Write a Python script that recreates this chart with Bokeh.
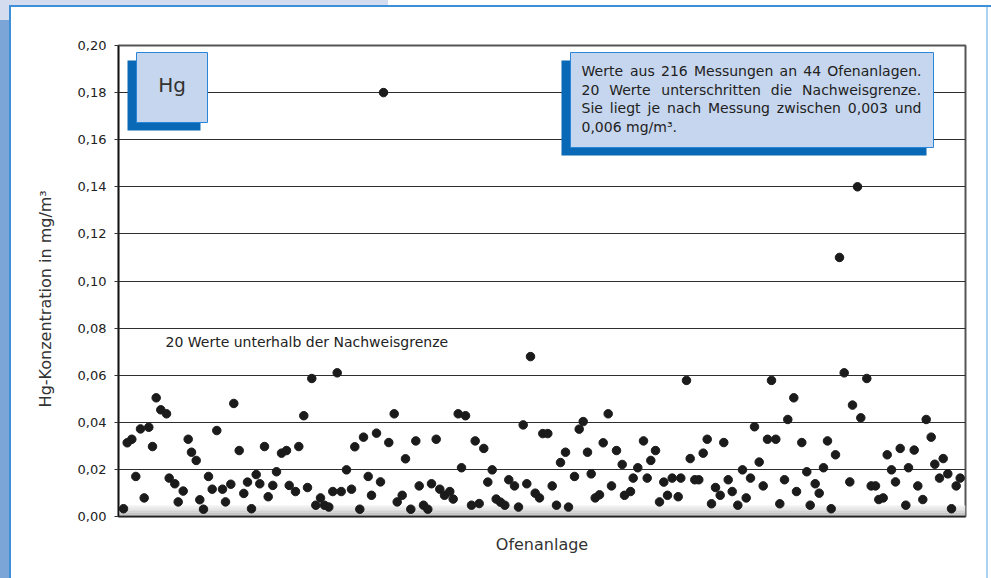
from bokeh.plotting import figure
from bokeh.models import Range1d, FixedTicker, ColumnDataSource, Label
from bokeh.embed import file_html
from bokeh.resources import INLINE

# Position of each measurement along the x axis (furnace order, arbitrary units 0..847)
position = [
    5.0, 8.7, 13.3, 17.3, 22.0, 25.7, 30.3, 34.0, 37.7, 42.3,
    48.0, 50.7, 56.3, 59.7, 64.7, 69.7, 73.0, 77.7, 81.3, 85.0,
    90.0, 93.7, 98.3, 104.0, 107.0, 112.3, 115.3, 120.7, 125.3, 129.0,
    133.0, 137.7, 141.3, 146.0, 149.7, 154.3, 158.0, 163.0, 168.0, 170.7,
    177.0, 180.3, 185.3, 189.0, 193.3, 197.3, 202.0, 206.0, 210.3, 214.3,
    218.7, 222.7, 228.0, 233.0, 236.3, 241.3, 245.0, 249.7, 253.0, 258.0,
    262.0, 265.0, 270.3, 275.7, 278.7, 283.7, 287.0, 292.3, 297.3, 300.7,
    305.0, 309.3, 313.0, 317.7, 321.3, 326.0, 331.3, 334.7, 339.7, 343.0,
    347.0, 353.0, 356.7, 360.7, 365.3, 369.3, 373.7, 377.7, 382.0, 386.3,
    390.3, 396.0, 400.0, 404.7, 408.3, 412.0, 416.7, 421.0, 424.3, 429.3,
    433.7, 438.0, 442.0, 447.0, 450.0, 456.0, 460.7, 464.7, 469.0, 472.7,
    476.7, 481.0, 484.7, 489.7, 493.0, 498.0, 503.7, 506.0, 512.0, 514.7,
    519.3, 525.0, 528.7, 532.3, 537.0, 541.0, 545.3, 549.0, 553.7, 559.7,
    562.3, 568.0, 571.7, 576.3, 580.3, 584.7, 588.7, 593.0, 597.0, 601.7,
    605.3, 609.7, 613.7, 619.3, 624.0, 627.7, 632.0, 636.0, 640.7, 644.7,
    649.0, 653.0, 657.3, 661.3, 666.0, 669.3, 675.3, 678.0, 683.3, 688.3,
    691.7, 696.7, 700.7, 705.0, 709.0, 712.7, 717.0, 721.0, 725.7, 731.3,
    734.0, 739.0, 742.3, 748.3, 752.7, 757.0, 760.3, 764.7, 768.7, 773.0,
    777.0, 781.7, 787.3, 790.0, 795.7, 799.3, 804.3, 807.7, 812.7, 816.3,
    821.0, 824.7, 829.3, 833.0, 837.7, 841.7,
]

# Hg concentration in mg/m3
hg = [
    0.0033, 0.0313, 0.0328, 0.0170, 0.0372, 0.0079, 0.0379, 0.0297, 0.0504, 0.0453,
    0.0436, 0.0163, 0.0139, 0.0062, 0.0108, 0.0328, 0.0273, 0.0238, 0.0071, 0.0031,
    0.0170, 0.0116, 0.0365, 0.0116, 0.0062, 0.0137, 0.0480, 0.0280, 0.0098, 0.0146,
    0.0033, 0.0178, 0.0139, 0.0297, 0.0084, 0.0132, 0.0190, 0.0269, 0.0280, 0.0132,
    0.0106, 0.0297, 0.0428, 0.0123, 0.0586, 0.0048, 0.0079, 0.0048, 0.0040, 0.0106,
    0.0610, 0.0106, 0.0198, 0.0116, 0.0296, 0.0031, 0.0337, 0.0170, 0.0090, 0.0354,
    0.0147, 0.1800, 0.0314, 0.0436, 0.0062, 0.0090, 0.0245, 0.0031, 0.0321, 0.0130,
    0.0048, 0.0031, 0.0139, 0.0328, 0.0116, 0.0090, 0.0106, 0.0074, 0.0436, 0.0207,
    0.0428, 0.0048, 0.0321, 0.0055, 0.0289, 0.0146, 0.0198, 0.0074, 0.0061, 0.0048,
    0.0156, 0.0130, 0.0040, 0.0389, 0.0139, 0.0679, 0.0099, 0.0079, 0.0352, 0.0352,
    0.0130, 0.0048, 0.0229, 0.0273, 0.0040, 0.0170, 0.0371, 0.0403, 0.0273, 0.0181,
    0.0079, 0.0092, 0.0313, 0.0436, 0.0130, 0.0280, 0.0221, 0.0090, 0.0106, 0.0163,
    0.0207, 0.0321, 0.0163, 0.0238, 0.0280, 0.0062, 0.0146, 0.0090, 0.0163, 0.0084,
    0.0163, 0.0578, 0.0246, 0.0156, 0.0156, 0.0269, 0.0328, 0.0054, 0.0123, 0.0090,
    0.0314, 0.0156, 0.0106, 0.0048, 0.0198, 0.0079, 0.0163, 0.0381, 0.0231, 0.0130,
    0.0328, 0.0578, 0.0328, 0.0054, 0.0156, 0.0412, 0.0504, 0.0106, 0.0314, 0.0190,
    0.0048, 0.0139, 0.0099, 0.0207, 0.0321, 0.0033, 0.0262, 0.1100, 0.0610, 0.0147,
    0.0473, 0.1400, 0.0419, 0.0586, 0.0130, 0.0130, 0.0072, 0.0079, 0.0262, 0.0198,
    0.0147, 0.0289, 0.0048, 0.0207, 0.0282, 0.0130, 0.0072, 0.0412, 0.0337, 0.0222,
    0.0163, 0.0246, 0.0181, 0.0033, 0.0130, 0.0163,
]

tick_values = [0.00, 0.02, 0.04, 0.06, 0.08, 0.10, 0.12, 0.14, 0.16, 0.18, 0.20]
tick_labels = ["0,00", "0,02", "0,04", "0,06", "0,08", "0,10",
               "0,12", "0,14", "0,16", "0,18", "0,20"]

y_title = "Hg-Konzentration in mg/m³"
x_title = "Ofenanlage"
below_limit_note = "20 Werte unterhalb der Nachweisgrenze"
note_lines = [
    "Werte aus 216 Messungen an 44 Ofenanlagen.",
    "20 Werte unterschritten die Nachweisgrenze.",
    "Sie liegt je nach Messung zwischen 0,003 und",
    "0,006 mg/m³.",
]

# ---- canvas geometry (pixels) ----
W, H = 991, 578
LEFT, RIGHT, TOP, BOTTOM = 118, 965, 45, 516
X_SPAN = RIGHT - LEFT
Y_MAX = 0.20
FONT = "DejaVu Sans"

# DejaVu Sans advance widths (em) used to justify the info-box paragraph
ADV = {
    " ": .318, ",": .318, ".": .318, "/": .337, "³": .401,
    "W": .989, "M": .863, "N": .748, "O": .787, "S": .635, "H": .752, "K": .656,
    "a": .613, "b": .635, "c": .550, "d": .635, "e": .615, "f": .352, "g": .635,
    "h": .634, "i": .278, "j": .278, "l": .278, "m": .974, "n": .634, "o": .612,
    "r": .411, "s": .521, "t": .392, "u": .634, "w": .818, "z": .525,
}


def text_width(s, size):
    return sum(ADV.get(ch, .636) for ch in s) * size


def sx(px):
    """canvas pixel column -> x data coordinate"""
    return px - LEFT


def sy(py):
    """canvas pixel row -> y data coordinate"""
    return (BOTTOM - py) / (BOTTOM - TOP) * Y_MAX


p = figure(
    width=W, height=H,
    x_range=Range1d(0, X_SPAN), y_range=Range1d(0, Y_MAX),
    output_backend="svg", toolbar_location=None,
    min_border_left=LEFT, min_border_right=W - RIGHT,
    min_border_top=TOP, min_border_bottom=H - BOTTOM,
)

# page frame: light band, dark left strip and thin blue rules
p.styles = {
    "background": (
        "linear-gradient(#3d8fd8,#3d8fd8) 9px 5px / 982px 2px no-repeat,"
        "linear-gradient(#3d8fd8,#3d8fd8) 9px 5px / 2px 573px no-repeat,"
        "linear-gradient(#a9d3f0,#a9d3f0) 986px 5px / 2px 573px no-repeat,"
        "linear-gradient(#7ba4d7,#7ba4d7) 0px 20px / 9px 558px no-repeat,"
        "linear-gradient(#d4ddf0,#d4ddf0) 0px 0px / 388px 5px no-repeat,"
        "linear-gradient(#d4ddf0,#d4ddf0) 0px 0px / 9px 20px no-repeat,"
        "#ffffff"
    )
}
p.border_fill_color = None
p.background_fill_color = "#ffffff"
p.outline_line_color = "#555555"
p.outline_line_width = 2

# grey band along the detection-limit zone
band_colors = ["#f0f0f0", "#e8e8e8", "#dedede", "#d2d2d2", "#c4c4c4", "#a9a9a9"]
band_top = sy(505)
n = len(band_colors)
for i, c in enumerate(band_colors):
    p.quad(left=0, right=X_SPAN,
           top=band_top * (n - i) / n, bottom=band_top * (n - i - 1) / n,
           fill_color=c, line_color=None)

# grid
p.xgrid.visible = False
p.ygrid.ticker = FixedTicker(ticks=tick_values)
p.ygrid.grid_line_color = "#2e2e2e"
p.ygrid.grid_line_width = 1

# y axis
p.yaxis.ticker = FixedTicker(ticks=tick_values)
p.yaxis.major_label_overrides = dict(zip(tick_values, tick_labels))
p.yaxis.axis_line_color = "#111111"
p.yaxis.axis_line_width = 1.5
p.yaxis.major_tick_line_color = "#333333"
p.yaxis.major_tick_out = 4
p.yaxis.major_tick_in = 0
p.yaxis.minor_tick_line_color = None
p.yaxis.major_label_standoff = 8
p.yaxis.major_label_text_font = FONT
p.yaxis.major_label_text_font_size = "13px"
p.yaxis.major_label_text_color = "#222222"
# trailing no-break spaces push the centred title toward the lower end
p.yaxis.axis_label = y_title + "\u00a0" * 7
p.yaxis.axis_label_text_font = FONT
p.yaxis.axis_label_text_font_size = "16px"
p.yaxis.axis_label_text_font_style = "normal"
p.yaxis.axis_label_text_color = "#333333"
p.yaxis.axis_label_standoff = 20

# x axis: line only
p.xaxis.ticker = FixedTicker(ticks=[])
p.xaxis.axis_line_color = "#222222"
p.xaxis.axis_line_width = 1.5
p.xaxis.major_tick_out = 0
p.xaxis.major_tick_in = 0
p.xaxis.major_label_standoff = 0
p.xaxis.major_tick_line_color = None
p.xaxis.minor_tick_line_color = None
p.xaxis.axis_label = x_title
p.xaxis.axis_label_text_font = FONT
p.xaxis.axis_label_text_font_size = "16px"
p.xaxis.axis_label_text_font_style = "normal"
p.xaxis.axis_label_text_color = "#333333"
p.xaxis.axis_label_standoff = 18

# measurements
src = ColumnDataSource(data=dict(position=position, hg=hg))
p.scatter(x="position", y="hg", source=src, size=8.5,
          fill_color="#1b1b1b", line_color="#1b1b1b")

# note about values below detection limit
p.add_layout(Label(x=sx(165), y=sy(341), text=below_limit_note,
                   text_align="left", text_baseline="middle",
                   text_font=FONT, text_font_size="14px", text_color="#222222"))

# "Hg" tag with offset shadow
p.quad(left=sx(127), right=sx(200), top=sy(60), bottom=sy(130),
       fill_color="#0a69b6", line_color=None)
p.quad(left=sx(136), right=sx(207), top=sy(52), bottom=sy(122),
       fill_color="#c6d6ee", line_color="#2a86d8", line_width=1)
p.add_layout(Label(x=sx(171.5), y=sy(84), text="Hg",
                   text_align="center", text_baseline="middle",
                   text_font=FONT, text_font_size="20px", text_color="#333333"))

# info box with offset shadow
p.quad(left=sx(561), right=sx(926), top=sy(60), bottom=sy(155),
       fill_color="#0a69b6", line_color=None)
p.quad(left=sx(570), right=sx(933), top=sy(52), bottom=sy(147),
       fill_color="#c6d6ee", line_color="#2a86d8", line_width=1)

# justified paragraph (last line ragged)
NOTE_SIZE = 14
text_left, text_right = 581, 921
line_rows = [70.7, 89.3, 107.7, 126.0]
for k, (line, row) in enumerate(zip(note_lines, line_rows)):
    words = line.split(" ")
    widths = [text_width(w, NOTE_SIZE) for w in words]
    if k < len(note_lines) - 1 and len(words) > 1:
        gap = (text_right - text_left - sum(widths)) / (len(words) - 1)
    else:
        gap = ADV[" "] * NOTE_SIZE
    x = text_left
    for w, wd in zip(words, widths):
        p.add_layout(Label(x=sx(x), y=sy(row), text=w,
                           text_align="left", text_baseline="middle",
                           text_font=FONT, text_font_size=f"{NOTE_SIZE}px",
                           text_color="#222222"))
        x += wd + gap

open("out.html", "w").write(file_html(p, INLINE))
